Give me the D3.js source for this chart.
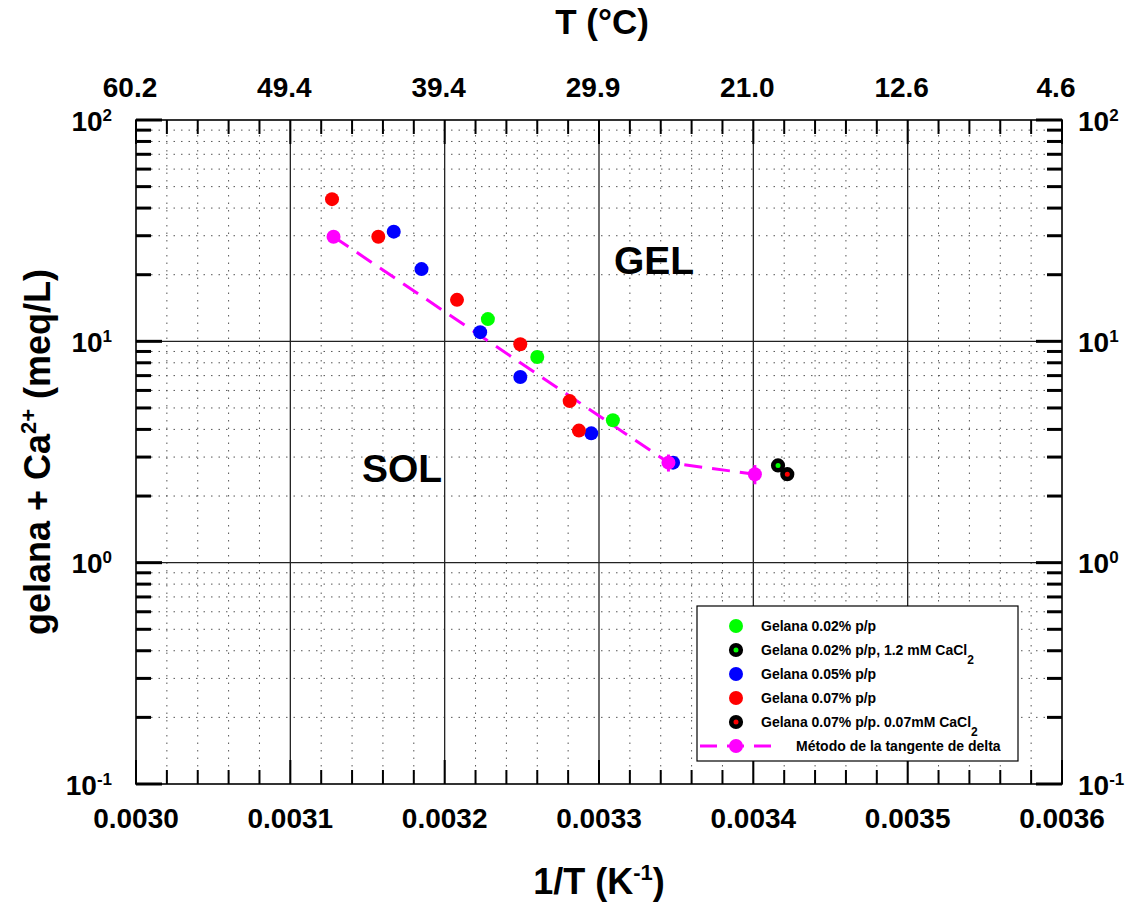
<!DOCTYPE html>
<html>
<head>
<meta charset="utf-8">
<script src="https://cdn.jsdelivr.net/npm/d3@7"></script>
<style>
  body { margin: 0; background: #fff; }
  text { font-family: "Liberation Sans", Arial, sans-serif; font-weight: bold; fill: #000; }
</style>
</head>
<body>
<div id="chart"></div>
<script>
// axis values and labels
const xMajor = [0.0030, 0.0031, 0.0032, 0.0033, 0.0034, 0.0035, 0.0036];
const xLabels = ["0.0030", "0.0031", "0.0032", "0.0033", "0.0034", "0.0035", "0.0036"];
const topLabels = ["60.2", "49.4", "39.4", "29.9", "21.0", "12.6", "4.6"];
const yMajor = [0.1, 1, 10, 100];
const yExp = ["-1", "0", "1", "2"];

// series
const g002X = [0.003228, 0.003260, 0.003309];
const g002Y = [12.6, 8.5, 4.4];
const g002CaX = [0.003416];
const g002CaY = [2.75];
const g005X = [0.003167, 0.003185, 0.003223, 0.003249, 0.003295, 0.003348];
const g005Y = [31.3, 21.2, 11.0, 6.9, 3.84, 2.83];
const g007X = [0.003127, 0.003157, 0.003208, 0.003249, 0.003281, 0.003287];
const g007Y = [43.9, 29.7, 15.4, 9.7, 5.37, 3.95];
const g007CaX = [0.003422];
const g007CaY = [2.51];
const tanX = [0.003128, 0.003345, 0.003401];
const tanY = [29.7, 2.83, 2.51];
const tanErr = [0, 0.25, 0.25];

const legendLabels = [
  ["Gelana 0.02% p/p", ""],
  ["Gelana 0.02% p/p, 1.2 mM CaCl", "2"],
  ["Gelana 0.05% p/p", ""],
  ["Gelana 0.07% p/p", ""],
  ["Gelana 0.07% p/p. 0.07mM CaCl", "2"],
  ["Método de la tangente de delta", ""]
];

const width = 1139, height = 907;
const margin = { top: 120, right: 77, bottom: 123, left: 136 };

const svg = d3.select("#chart").append("svg")
  .attr("width", width)
  .attr("height", height);

const x = d3.scaleLinear()
  .domain([0.0030, 0.0036])
  .range([margin.left, width - margin.right]);

const y = d3.scaleLog()
  .domain([0.1, 100])
  .range([height - margin.bottom, margin.top]);

const x0 = x.range()[0], x1 = x.range()[1];
const y0 = y.range()[0], y1 = y.range()[1];

const isMajorX = v => xMajor.some(m => Math.abs(m - v) < 1e-9);
const isMajorY = v => yMajor.some(m => Math.abs(m - v) < 1e-9);
const xMinor = x.ticks(30).filter(v => !isMajorX(v));
const yMinor = y.ticks().filter(v => !isMajorY(v));

// dotted minor grid
const grid = svg.append("g");
grid.selectAll(".vminor").data(xMinor).enter().append("line")
  .attr("x1", d => x(d)).attr("x2", d => x(d))
  .attr("y1", y1).attr("y2", y0)
  .attr("stroke", "#555").attr("stroke-width", 1)
  .attr("stroke-dasharray", "1.5,6");
grid.selectAll(".hminor").data(yMinor).enter().append("line")
  .attr("x1", x0).attr("x2", x1)
  .attr("y1", d => y(d)).attr("y2", d => y(d))
  .attr("stroke", "#555").attr("stroke-width", 1)
  .attr("stroke-dasharray", "1.5,6");

// solid major grid
grid.selectAll(".vmajor").data(xMajor.slice(1, -1)).enter().append("line")
  .attr("x1", d => x(d)).attr("x2", d => x(d))
  .attr("y1", y1).attr("y2", y0)
  .attr("stroke", "#222").attr("stroke-width", 1.3);
grid.selectAll(".hmajor").data(yMajor.slice(1, -1)).enter().append("line")
  .attr("x1", x0).attr("x2", x1)
  .attr("y1", d => y(d)).attr("y2", d => y(d))
  .attr("stroke", "#222").attr("stroke-width", 1.3);

// ticks
const ticks = svg.append("g").attr("stroke", "#000");
[[y0, -1], [y1, 1]].forEach(([yy, dir]) => {
  ticks.selectAll(null).data(x.ticks(30)).enter().append("line")
    .attr("x1", d => x(d)).attr("x2", d => x(d))
    .attr("y1", yy).attr("y2", d => yy + dir * (isMajorX(d) ? 24 : 14))
    .attr("stroke-width", 2);
});
[[x0, 1], [x1, -1]].forEach(([xx, dir]) => {
  ticks.selectAll(null).data(y.ticks()).enter().append("line")
    .attr("y1", d => y(d)).attr("y2", d => y(d))
    .attr("x1", xx).attr("x2", d => xx + dir * (isMajorY(d) ? 26 : 15))
    .attr("stroke-width", 3);
});

// frame
svg.append("rect")
  .attr("x", x0).attr("y", y1)
  .attr("width", x1 - x0).attr("height", y0 - y1)
  .attr("fill", "none").attr("stroke", "#000").attr("stroke-width", 1.6);

// tangent method line
const line = d3.line().x(d => x(d[0])).y(d => y(d[1]));
svg.append("path")
  .datum(tanX.map((v, i) => [v, tanY[i]]))
  .attr("d", line)
  .attr("fill", "none")
  .attr("stroke", "#ff00ff")
  .attr("stroke-width", 3)
  .attr("stroke-dasharray", "18,10");

function plainDots(xs, ys, color) {
  svg.append("g").selectAll("circle").data(xs).enter().append("circle")
    .attr("cx", d => x(d))
    .attr("cy", (d, i) => y(ys[i]))
    .attr("r", 7)
    .attr("fill", color);
}
function ringDots(xs, ys, color) {
  svg.append("g").selectAll("circle").data(xs).enter().append("circle")
    .attr("cx", d => x(d))
    .attr("cy", (d, i) => y(ys[i]))
    .attr("r", 4.8)
    .attr("fill", color)
    .attr("stroke", "#000")
    .attr("stroke-width", 4.6);
}

plainDots(g002X, g002Y, "#00ff00");
plainDots(g005X, g005Y, "#0000ff");
plainDots(g007X, g007Y, "#ff0000");
ringDots(g002CaX, g002CaY, "#00ff00");
ringDots(g007CaX, g007CaY, "#ff0000");

// error bars of the tangent points
svg.append("g").selectAll("line").data(tanX).enter().append("line")
  .attr("x1", d => x(d)).attr("x2", d => x(d))
  .attr("y1", (d, i) => y(tanY[i] + tanErr[i]))
  .attr("y2", (d, i) => y(tanY[i] - tanErr[i]))
  .attr("stroke", "#ff00ff").attr("stroke-width", 3);
plainDots(tanX, tanY, "#ff00ff");

// tick labels
svg.append("g").selectAll("text").data(xMajor).enter().append("text")
  .attr("x", d => x(d)).attr("y", y0 + 44)
  .attr("text-anchor", "middle").style("font-size", "28px")
  .text((d, i) => xLabels[i]);

svg.append("g").selectAll("text").data(xMajor).enter().append("text")
  .attr("x", d => x(d) - 6).attr("y", y1 - 23)
  .attr("text-anchor", "middle").style("font-size", "28px")
  .text((d, i) => topLabels[i]);

function powLabel(g, xx, anchor) {
  const t = g.selectAll(null).data(yMajor).enter().append("text")
    .attr("x", xx).attr("y", d => y(d) + 10.5)
    .attr("text-anchor", anchor).style("font-size", "28px");
  t.append("tspan").text("10");
  t.append("tspan").attr("dy", -10).style("font-size", "17px")
    .text((d, i) => yExp[i]);
}
powLabel(svg.append("g"), x0 - 24, "end");
powLabel(svg.append("g"), x1 + 16, "start");

// axis titles
svg.append("text")
  .attr("x", 602).attr("y", 34)
  .attr("text-anchor", "middle").style("font-size", "35px")
  .text("T (°C)");

const xt = svg.append("text")
  .attr("x", (x0 + x1) / 2).attr("y", 894)
  .attr("text-anchor", "middle").style("font-size", "36px");
xt.append("tspan").text("1/T (K");
xt.append("tspan").attr("dy", -14).style("font-size", "22px").text("-1");
xt.append("tspan").attr("dy", 14).text(")");

const yt = svg.append("text")
  .attr("transform", `translate(50,${(y0 + y1) / 2}) rotate(-90)`)
  .attr("text-anchor", "middle").style("font-size", "36px");
yt.append("tspan").text("gelana + Ca");
yt.append("tspan").attr("dy", -14).style("font-size", "22px").text("2+");
yt.append("tspan").attr("dy", 14).text(" (meq/L)");

svg.append("text").attr("x", 654).attr("y", 274)
  .attr("text-anchor", "middle").style("font-size", "39px").text("GEL");
svg.append("text").attr("x", 402).attr("y", 482)
  .attr("text-anchor", "middle").style("font-size", "39px").text("SOL");

// legend
const legend = svg.append("g").attr("transform", "translate(697,606)");
legend.append("rect")
  .attr("width", 321).attr("height", 155)
  .attr("fill", "#fff").attr("stroke", "#000").attr("stroke-width", 1.2);

const legendKinds = [
  ["dot", "#00ff00"], ["ring", "#00ff00"], ["dot", "#0000ff"],
  ["dot", "#ff0000"], ["ring", "#ff0000"], ["line", "#ff00ff"]
];

legendLabels.forEach((lab, i) => {
  const cy = 20 + i * 24;
  const [kind, color] = legendKinds[i];
  if (kind === "line") {
    legend.append("line")
      .attr("x1", 3).attr("x2", 74).attr("y1", cy).attr("y2", cy)
      .attr("stroke", color).attr("stroke-width", 3)
      .attr("stroke-dasharray", "17,10");
  }
  legend.append("circle")
    .attr("cx", 39).attr("cy", cy)
    .attr("r", kind === "ring" ? 4.8 : 7)
    .attr("fill", color)
    .attr("stroke", kind === "ring" ? "#000" : "none")
    .attr("stroke-width", 4.6);
  const t = legend.append("text")
    .attr("x", kind === "line" ? 99 : 64).attr("y", cy + 5)
    .style("font-size", "14px");
  t.append("tspan").text(lab[0]);
  if (lab[1]) {
    t.append("tspan").attr("dy", 9).style("font-size", "12px").text(lab[1]);
  }
});
</script>
</body>
</html>
